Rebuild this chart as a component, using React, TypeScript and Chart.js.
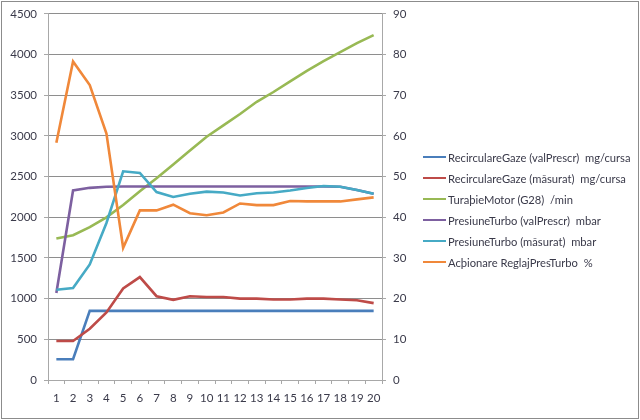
import React, { useEffect, useRef } from "react";
import { Chart, registerables } from "chart.js";

Chart.register(...registerables);

const categories = ["1","2","3","4","5","6","7","8","9","10","11","12","13","14","15","16","17","18","19","20"];

const recircPrescr = [255, 255, 850, 850, 850, 850, 850, 850, 850, 850, 850, 850, 850, 850, 850, 850, 850, 850, 850, 850];
const recircMasurat = [480, 480, 630, 830, 1125, 1265, 1030, 985, 1030, 1020, 1020, 1000, 1000, 990, 990, 1000, 1000, 990, 980, 945];
const turatieMotor = [1740, 1780, 1880, 2000, 2150, 2320, 2480, 2650, 2820, 2990, 3130, 3270, 3420, 3540, 3670, 3800, 3920, 4030, 4140, 4240];
const presiunePrescr = [1070, 2330, 2362, 2375, 2378, 2378, 2378, 2378, 2378, 2378, 2378, 2378, 2378, 2378, 2378, 2378, 2378, 2375, 2335, 2290];
const presiuneMasurat = [1110, 1130, 1420, 1930, 2565, 2545, 2310, 2250, 2290, 2315, 2305, 2268, 2295, 2305, 2330, 2360, 2385, 2375, 2335, 2290];
const actionareReglaj = [58.3, 78.3, 72.5, 60.6, 32.5, 41.7, 41.7, 43.1, 41.0, 40.5, 41.2, 43.4, 43.0, 43.0, 44.0, 43.9, 43.9, 43.9, 44.4, 44.9];

const leftTicks = [0, 4500, 500];
const rightTicks = [0, 90, 10];

const seriesLabels = [
  "RecirculareGaze (valPrescr)  mg/cursa",
  "RecirculareGaze (m\u0103surat)  mg/cursa",
  "Tura\u00feieMotor (G28)  /min",
  "PresiuneTurbo (valPrescr)  mbar",
  "PresiuneTurbo (m\u0103surat)  mbar",
  "Ac\u00feionare ReglajPresTurbo  %",
];
const seriesValues = [recircPrescr, recircMasurat, turatieMotor, presiunePrescr, presiuneMasurat, actionareReglaj];
const seriesAxis = ["y", "y", "y", "y", "y", "y1"];
const seriesColors = ["#4A7EBB", "#BE4B48", "#98B954", "#7D60A0", "#46AAC5", "#F0883A"];

const FONT = "Lato, 'Open Sans', sans-serif";
const TEXT = "#3a3a4a";
const GRID = "#8e8e8e";
const AXIS = "#a8a8a8";

export default function App() {
  const ref = useRef<HTMLCanvasElement>(null);

  useEffect(() => {
    const canvas = ref.current;
    if (!canvas) return;
    const chart = new Chart(canvas, {
      type: "line",
      data: {
        labels: categories,
        datasets: seriesValues.map((vals, i) => ({
          label: seriesLabels[i],
          data: vals,
          yAxisID: seriesAxis[i],
          borderColor: seriesColors[i],
          backgroundColor: seriesColors[i],
          borderWidth: 2.6,
          pointRadius: 0,
          tension: 0,
          fill: false,
          order: seriesValues.length - i,
        })),
      },
      options: {
        responsive: false,
        maintainAspectRatio: false,
        animation: false,
        layout: { padding: { left: 0, right: 0, top: 13, bottom: 0 } },
        plugins: {
          legend: { display: false },
          tooltip: { enabled: false },
        },
        scales: {
          x: {
            type: "category",
            offset: true,
            afterFit: (s: any) => { s.height = 40; },
            grid: {
              offset: true,
              drawOnChartArea: false,
              drawTicks: true,
              tickLength: 4,
              color: AXIS,
            },
            border: { display: true, color: AXIS, width: 1 },
            ticks: {
              color: TEXT,
              font: { family: FONT, size: 11.5 },
              padding: 7,
              maxRotation: 0,
              autoSkip: false,
            },
          },
          y: {
            position: "left",
            min: leftTicks[0],
            max: leftTicks[1],
            afterFit: (s: any) => { s.width = 48; },
            grid: { color: GRID, drawTicks: true, tickLength: 4, tickColor: AXIS },
            border: { display: true, color: AXIS, width: 1 },
            ticks: {
              stepSize: leftTicks[2],
              color: TEXT,
              font: { family: FONT, size: 11.5 },
              padding: 7,
              callback: (v: any) => String(v),
            },
          },
          y1: {
            position: "right",
            min: rightTicks[0],
            max: rightTicks[1],
            afterFit: (s: any) => { s.width = 258; },
            grid: { drawOnChartArea: false, drawTicks: true, tickLength: 4, color: AXIS },
            border: { display: true, color: AXIS, width: 1 },
            ticks: {
              stepSize: rightTicks[2],
              color: TEXT,
              font: { family: FONT, size: 11.5 },
              padding: 7,
              callback: (v: any) => String(v),
            },
          },
        },
      },
    });
    return () => chart.destroy();
  }, []);

  return (
    <div style={{ position: "absolute", left: 0, top: 0, width: 640, height: 420, background: "#fff", overflow: "hidden" }}>
      <canvas ref={ref} width={640} height={420} style={{ position: "absolute", left: 0, top: 0, width: 640, height: 420 }} />
      <div
        style={{
          position: "absolute", left: 1, top: 1, width: 638, height: 418,
          boxSizing: "border-box", border: "1px solid #8c8c8c", pointerEvents: "none",
        }}
      />
      {seriesLabels.map((lbl, i) => (
        <div
          key={i}
          style={{
            position: "absolute", left: 423, top: 157 + i * 21 - 8, height: 16, width: 214,
            display: "flex", alignItems: "center", whiteSpace: "pre",
            fontFamily: FONT, fontSize: 11.2, color: TEXT,
          }}
        >
          <span style={{ display: "inline-block", flex: "0 0 23px", width: 23, height: 2, background: seriesColors[i], marginRight: 2 }} />
          <span>{lbl}</span>
        </div>
      ))}
    </div>
  );
}
